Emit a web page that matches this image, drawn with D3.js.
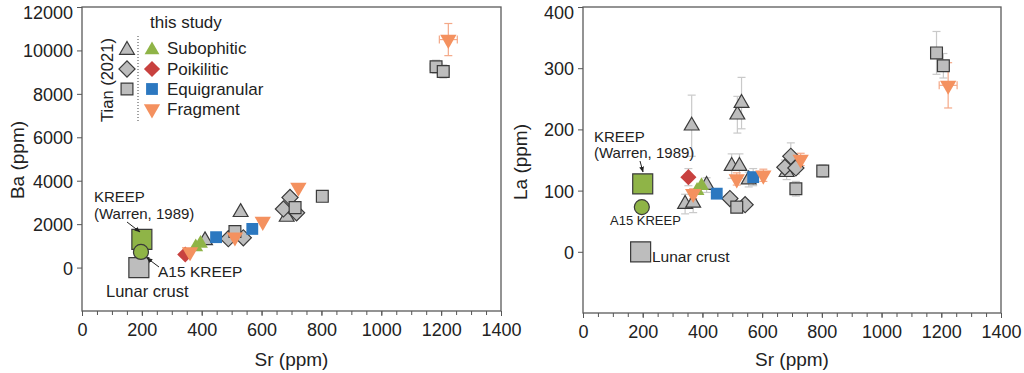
<!DOCTYPE html>
<html><head><meta charset="utf-8">
<script src="https://cdn.jsdelivr.net/npm/d3@7"></script>
<style>body{margin:0;background:#fff}svg{display:block;font-family:"Liberation Sans",Arial,sans-serif}</style>
</head><body><svg id="c" width="1024" height="373"></svg>
<script>
// ---------- DATA ----------
// each point: [Sr, value, errValue, errSr]
const xTicks = [0,200,400,600,800,1000,1200,1400];
const baTicks = [0,2000,4000,6000,8000,10000,12000];
const laTicks = [0,100,200,300,400];

// Ba vs Sr panel
const baTianTri  = [[411,1250],[530,2550],[684,2330]];
const baTianDia  = [[489,1330],[539,1370],[673,2700],[695,3230],[717,2520]];
const baTianSq   = [[511,1660],[712,2760],[803,3280],[1183,9250,300,20],[1207,9030,300,20]];
const baSubo     = [[380,950],[396,1110]];
const baPoik     = [[345,600]];
const baEqui     = [[448,1400],[569,1780]];
const baFrag     = [[361,720],[511,1400],[604,2120],[723,3690],[1224,10500,740,30]];
const baKreep    = [200,1300];
const baA15      = [197,720];
const baCrust    = [190,0];

// La vs Sr panel
const laTianTri  = [[342,78,16,0],[369,80,16,0],[364,206,50,0],[414,109,12,0],[498,140,20,0],[524,140,20,0],[517,224,30,0],[531,243,42,0],[555,118,12,0],[682,130,12,0]];
const laTianDia  = [[492,87,8,0],[543,77,8,0],[676,138,12,0],[696,156,22,0],[713,137,10,0]];
const laTianSq   = [[515,73,8,0],[713,103,12,0],[803,132,10,15],[1184,325,35,15],[1207,304,20,15]];
const laSubo     = [[382,100],[397,108]];
const laPoik     = [[353,122,14,0]];
const laEqui     = [[448,95],[570,122,14,0]];
const laFrag     = [[369,95,8,0],[515,119,10,0],[604,125,10,0],[729,151,10,0],[1223,272,37,30]];
const laKreep    = [200,111];
const laA15      = [197,73];
const laCrust    = [193,0];

// ---------- STYLE ----------
const C = {green:"#8fb447", red:"#c8413f", blue:"#2c78c0", orange:"#f4915f", gray:"#bdbdbd", stroke:"#3a3a3a", err:"#c9c9c9", errO:"#f4a887"};
const svg = d3.select("#c");
const TICKF = 18, LABF = 19;

function sym(g, type, x, y, fill, stroke, size){
  let s;
  if(type==="tri") s = d3.symbol(d3.symbolTriangle, size||95);
  else if(type==="dtri") s = d3.symbol(d3.symbolTriangle, size||115);
  else s = d3.symbol(d3.symbolSquare, size||(type==="dia"?130:140));
  let r = type==="dia"?45:(type==="dtri"?180:0);
  g.append("path").attr("d", s()).attr("transform",`translate(${x},${y}) rotate(${r})`)
   .attr("fill",fill).attr("stroke",stroke).attr("stroke-width",1.2);
}

function panel(opt){
  const x = d3.scaleLinear().domain([0,1400]).range([opt.x0,opt.x1]);
  const y = d3.scaleLinear().domain(opt.ydom).range([opt.y1,opt.y0]);
  const g = svg.append("g");
  g.append("rect").attr("x",opt.x0).attr("y",opt.y0).attr("width",opt.x1-opt.x0).attr("height",opt.y1-opt.y0)
   .attr("fill","none").attr("stroke","#5a5a5a").attr("stroke-width",1.3);
  const xa = g.append("g").attr("transform",`translate(0,${opt.y1})`)
    .call(d3.axisBottom(x).tickValues(d3.range(0,1401,50)).tickSize(4).tickFormat(""));
  xa.select(".domain").remove();
  xa.selectAll("line").attr("stroke","#555");
  const xl = g.append("g").attr("transform",`translate(0,${opt.y1})`)
    .call(d3.axisBottom(x).tickValues(xTicks).tickSize(5).tickPadding(7).tickFormat(d3.format("d")));
  xl.select(".domain").remove();
  xl.selectAll("line").attr("stroke","#555");
  xl.selectAll("text").attr("font-size",TICKF).attr("fill","#222").attr("font-family","Liberation Sans, Arial");
  const ya = g.append("g").attr("transform",`translate(${opt.x0},0)`)
    .call(d3.axisLeft(y).tickValues(opt.yticks).tickSize(5).tickPadding(4).tickFormat(d3.format("d")));
  ya.select(".domain").remove();
  ya.selectAll("line").attr("stroke","#555");
  const top = d3.max(opt.yticks);
  ya.selectAll("text").attr("font-size",TICKF).attr("fill","#222").attr("font-family","Liberation Sans, Arial")
    .attr("dy", d => d===top ? "0.62em" : "0.36em");
  g.append("text").attr("x",(opt.x0+opt.x1)/2).attr("y",366).attr("text-anchor","middle").attr("font-size",LABF).attr("fill","#222").text("Sr (ppm)");
  g.append("text").attr("transform",`translate(${opt.ylabX},${opt.ylabY}) rotate(-90)`).attr("text-anchor","middle").attr("font-size",LABF).attr("fill","#222").text(opt.ylab);

  const pts = g.append("g");
  const allErr = [...opt.gray.flatMap(s=>s.d.map(p=>[p,C.err])), ...opt.col.flatMap(s=>s.d.map(p=>[p,s.type==="dtri"?C.errO:C.err]))];
  allErr.forEach(([p,col])=>{
    const cx=x(p[0]), cy=y(p[1]);
    if(p[2]){ const a=y(p[1]+p[2]), b=y(p[1]-p[2]);
      pts.append("line").attr("x1",cx).attr("x2",cx).attr("y1",a).attr("y2",b).attr("stroke",col).attr("stroke-width",1.2);
      [a,b].forEach(v=>pts.append("line").attr("x1",cx-4).attr("x2",cx+4).attr("y1",v).attr("y2",v).attr("stroke",col).attr("stroke-width",1.2));
    }
    if(p[3]){ const a=x(p[0]-p[3]), b=x(p[0]+p[3]);
      pts.append("line").attr("x1",a).attr("x2",b).attr("y1",cy).attr("y2",cy).attr("stroke",col).attr("stroke-width",1.2);
      [a,b].forEach(v=>pts.append("line").attr("x1",v).attr("x2",v).attr("y1",cy-4).attr("y2",cy+4).attr("stroke",col).attr("stroke-width",1.2));
    }
  });
  sym(pts,"sq",x(opt.crust[0]),y(opt.crust[1]),C.gray,C.stroke,400);
  sym(pts,"sq",x(opt.kreep[0]),y(opt.kreep[1]),C.green,C.stroke,400);
  pts.append("circle").attr("cx",x(opt.a15[0])).attr("cy",y(opt.a15[1])).attr("r",7.5).attr("fill",C.green).attr("stroke",C.stroke).attr("stroke-width",1.2);
  opt.gray.forEach(s=>s.d.forEach(p=>sym(pts,s.type,x(p[0]),y(p[1]),C.gray,C.stroke)));
  opt.col.forEach(s=>s.d.forEach(p=>sym(pts,s.type,x(p[0]),y(p[1]),s.fill,"none")));
  return {x,y,g};
}

svg.append("defs").append("marker").attr("id","ah").attr("viewBox","0 0 10 10").attr("refX",9).attr("refY",5)
  .attr("markerWidth",6).attr("markerHeight",6).attr("orient","auto")
  .append("path").attr("d","M0,1 L10,5 L0,9 z").attr("fill","#222");

panel({x0:82,x1:501,y0:7,y1:311,ydom:[-2000,12000],yticks:baTicks,ylab:"Ba (ppm)",ylabX:24,ylabY:160,
  gray:[{type:"tri",d:baTianTri},{type:"dia",d:baTianDia},{type:"sq",d:baTianSq}],
  col:[{type:"tri",fill:C.green,d:baSubo},{type:"dia",fill:C.red,d:baPoik},{type:"sq",fill:C.blue,d:baEqui},{type:"dtri",fill:C.orange,d:baFrag}],
  kreep:baKreep,a15:baA15,crust:baCrust});
panel({x0:583,x1:1001,y0:7,y1:313,ydom:[-100,400],yticks:laTicks,ylab:"La (ppm)",ylabX:527,ylabY:162,
  gray:[{type:"tri",d:laTianTri},{type:"dia",d:laTianDia},{type:"sq",d:laTianSq}],
  col:[{type:"tri",fill:C.green,d:laSubo},{type:"dia",fill:C.red,d:laPoik},{type:"sq",fill:C.blue,d:laEqui},{type:"dtri",fill:C.orange,d:laFrag}],
  kreep:laKreep,a15:laA15,crust:laCrust});

function txt(x,y,t,fs,anchor){svg.append("text").attr("x",x).attr("y",y).attr("font-size",fs).attr("fill","#222").attr("text-anchor",anchor||"start").text(t);}
function arrow(x1,y1,x2,y2){svg.append("line").attr("x1",x1).attr("y1",y1).attr("x2",x2).attr("y2",y2).attr("stroke","#222").attr("stroke-width",1).attr("marker-end","url(#ah)");}
// annotations left
txt(94,202,"KREEP",15); txt(94,219,"(Warren, 1989)",15);
arrow(127,222,140,232);
txt(158,277,"A15 KREEP",15.5); arrow(159,267,147,258);
txt(106,297,"Lunar crust",16.5);
// annotations right
txt(594,142,"KREEP",15); txt(594,158,"(Warren, 1989)",15);
arrow(640,161,643,172);
txt(610,225,"A15 KREEP",13);
txt(652,262,"Lunar crust",15.5);

// legend
const L = svg.append("g");
txt(150,28,"this study",17);
L.append("text").attr("transform","translate(113,80) rotate(-90)").attr("text-anchor","middle").attr("font-size",16.5).attr("fill","#222").text("Tian (2021)");
L.append("line").attr("x1",138).attr("x2",138).attr("y1",36).attr("y2",122).attr("stroke","#444").attr("stroke-dasharray","1,2");
const leg = [["tri",C.green,"Subophitic",48],["dia",C.red,"Poikilitic",69],["sq",C.blue,"Equigranular",89],["dtri",C.orange,"Fragment",109]];
leg.forEach(([t,f,lab,yy],i)=>{
  if(i<3) sym(L,t,127,yy+(t==="tri"?2:0),C.gray,C.stroke);
  sym(L,t,152,yy+(t==="tri"?2:0),f,"none");
  txt(167,yy+6,lab,17);
});
</script></body></html>
